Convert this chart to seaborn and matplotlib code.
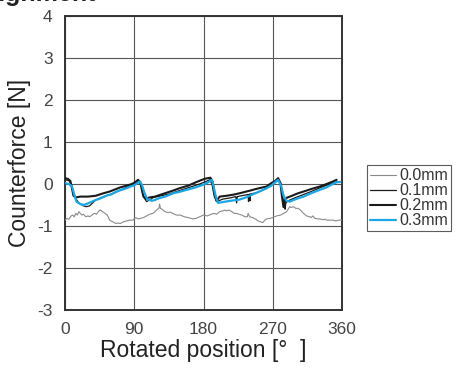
import numpy as np
import pandas as pd
import matplotlib
matplotlib.use("Agg")
import matplotlib.pyplot as plt
import seaborn as sns

# ---- data ----
deg_00 = [0, 2, 5, 8, 10, 12, 14, 16, 18, 20, 22, 24, 27, 30, 32, 35, 38, 41, 44, 46, 49, 52, 55, 58, 62, 66, 69, 72, 76, 80, 84, 88, 92, 95, 98,
          102, 106, 110, 114, 117, 120, 122, 123, 124, 126, 130, 134, 137, 140, 145, 150, 155, 160, 166, 170, 175, 180, 185, 190, 194, 197,
          201, 205, 208, 210, 213, 217, 220, 223, 226, 230, 234, 237, 238, 240, 244, 248, 251, 254, 257, 260, 262, 266, 270, 275, 280,
          284, 288, 290, 292, 294, 297, 300, 303, 306, 310, 314, 318, 320, 322, 325, 328, 331, 335, 338, 340, 344, 348, 352, 356, 360]
val_00 = [-0.86, -0.82, -0.84, -0.76, -0.74, -0.78, -0.70, -0.74, -0.66, -0.70, -0.74, -0.72, -0.78, -0.76, -0.78, -0.74, -0.70, -0.72, -0.64, -0.62, -0.66, -0.70, -0.74, -0.86, -0.90, -0.94, -0.93, -0.94, -0.90, -0.88, -0.86, -0.86, -0.80, -0.83, -0.82,
          -0.80, -0.76, -0.72, -0.70, -0.66, -0.60, -0.58, -0.48, -0.58, -0.60, -0.66, -0.68, -0.67, -0.70, -0.74, -0.74, -0.78, -0.80, -0.83, -0.82, -0.78, -0.74, -0.76, -0.72, -0.70, -0.72,
          -0.66, -0.64, -0.62, -0.64, -0.62, -0.66, -0.70, -0.70, -0.72, -0.74, -0.78, -0.78, -0.70, -0.78, -0.80, -0.84, -0.88, -0.90, -0.92, -0.86, -0.83, -0.82, -0.80, -0.76, -0.74,
          -0.70, -0.66, -0.60, -0.54, -0.56, -0.54, -0.58, -0.58, -0.62, -0.70, -0.76, -0.78, -0.80, -0.76, -0.82, -0.83, -0.83, -0.85, -0.84, -0.86, -0.86, -0.86, -0.88, -0.86, -0.86]

deg_01 = [0, 5, 8, 11, 14, 18, 24, 28, 32, 36, 40, 50, 60, 70, 80, 88, 93, 96, 99, 102, 106, 110, 115, 125, 135, 145, 155, 165, 175, 182, 188,
          191, 194, 197, 205, 215, 222, 223, 224, 232, 238, 238.5, 239, 240, 240.5, 241, 250, 260, 268, 274, 278, 281, 283, 284, 285, 286, 287,
          290, 300, 310, 320, 330, 340, 350, 355]
val_01 = [0.10, 0.08, 0.00, -0.20, -0.35, -0.45, -0.52, -0.54, -0.52, -0.45, -0.38, -0.30, -0.24, -0.16, -0.08, -0.02, 0.05, 0.08, -0.05, -0.30, -0.42, -0.38, -0.32, -0.28, -0.24, -0.18, -0.12, -0.06, 0.00, 0.05, 0.10,
          0.00, -0.30, -0.42, -0.36, -0.33, -0.30, -0.45, -0.30, -0.27, -0.25, -0.42, -0.25, -0.24, -0.40, -0.24, -0.20, -0.12, -0.04, 0.05, 0.10, 0.00, -0.35, -0.55, -0.35, -0.60, -0.45,
          -0.40, -0.32, -0.25, -0.18, -0.10, -0.03, 0.03, 0.06]

deg_02 = [0, 4, 7, 9, 11, 14, 20, 30, 40, 50, 58, 65, 72, 80, 87, 91, 95, 98, 100, 102, 105, 110, 117, 130, 140, 149, 160, 170, 178, 183, 189,
          192, 194, 197, 201, 210, 220, 227, 240, 250, 262, 268, 273, 277, 280, 282, 284, 286, 288, 295, 303, 310, 320, 331, 340, 347, 353]
val_02 = [0.14, 0.12, 0.07, -0.10, -0.28, -0.32, -0.30, -0.30, -0.28, -0.22, -0.18, -0.13, -0.08, -0.04, 0.00, 0.04, 0.10, 0.04, -0.15, -0.30, -0.35, -0.32, -0.30, -0.22, -0.16, -0.10, -0.04, 0.04, 0.10, 0.13, 0.15,
          0.05, -0.20, -0.40, -0.30, -0.28, -0.25, -0.22, -0.16, -0.11, -0.06, 0.02, 0.07, 0.14, 0.02, -0.30, -0.55, -0.40, -0.33, -0.28, -0.22, -0.18, -0.12, -0.06, 0.00, 0.05, 0.10]

deg_03 = [0, 5, 9, 12, 15, 20, 25, 30, 35, 40, 45, 50, 55, 60, 65, 70, 75, 80, 85, 90, 94, 97, 100, 103, 107, 113, 117, 122, 130, 141, 150, 160, 170, 182, 186, 191,
          193, 196, 199, 205, 215, 227, 235, 245, 255, 262, 268, 273, 277, 281, 284, 288, 292, 300, 310, 320, 331, 340, 348, 353, 358]
val_03 = [0.02, 0.00, -0.05, -0.25, -0.42, -0.48, -0.50, -0.46, -0.42, -0.38, -0.35, -0.31, -0.27, -0.25, -0.20, -0.16, -0.13, -0.10, -0.06, -0.03, 0.02, 0.06, -0.02, -0.20, -0.36, -0.40, -0.38, -0.34, -0.30, -0.22, -0.18, -0.13, -0.08, 0.00, 0.04, 0.10,
          -0.05, -0.30, -0.45, -0.43, -0.40, -0.37, -0.32, -0.24, -0.16, -0.10, -0.04, 0.04, 0.10, -0.05, -0.28, -0.40, -0.42, -0.36, -0.30, -0.22, -0.14, -0.08, 0.00, 0.04, 0.05]

series_labels = ["0.0mm", "0.1mm", "0.2mm", "0.3mm"]
series_colors = ["#8a8a8a", "#1a1a1a", "#1a1a1a", "#1aa7e6"]
series_widths = [0.8, 0.9, 1.5, 1.6]

x_ticks = [0, 90, 180, 270, 360]
y_ticks = [-3, -2, -1, 0, 1, 2, 3, 4]

# ---- figure ----
sns.set_theme(style="white")
plt.rcParams["font.family"] = ["Liberation Sans", "DejaVu Sans"]
plt.rcParams["axes.unicode_minus"] = False

fig = plt.figure(figsize=(4.67, 3.68), dpi=100)
ax = fig.add_axes([65 / 467, 1 - 310 / 368, (342 - 65) / 467, (310 - 16) / 368])

datasets = [(deg_00, val_00), (deg_01, val_01), (deg_02, val_02), (deg_03, val_03)]
for (xs, ys), lab, col, lw in zip(datasets, series_labels, series_colors, series_widths):
    df = pd.DataFrame({"deg": xs, "force": ys})
    sns.lineplot(data=df, x="deg", y="force", ax=ax, color=col, linewidth=lw,
                 label=lab, sort=False, estimator=None, zorder=3)

ax.set_xlim(0, 360)
ax.set_ylim(-3, 4)
ax.set_xticks(x_ticks)
ax.set_yticks(y_ticks)
ax.grid(True, color="#555555", linewidth=0.8, zorder=0)
ax.set_axisbelow(True)
for s in ax.spines.values():
    s.set_color("#333333")
    s.set_linewidth(1.4)
ax.tick_params(axis="both", length=0, labelsize=12.5, labelcolor="#444444")
ax.tick_params(axis="x", pad=9)
ax.tick_params(axis="y", pad=9)
ax.set_xlabel("Rotated position [°  ]", fontsize=16.5, color="#222222", labelpad=1)
ax.set_ylabel("Counterforce [N]", fontsize=16.5, color="#222222", labelpad=4)

leg = ax.legend(loc="upper left", bbox_to_anchor=(367 / 467, 1 - 165 / 368),
                bbox_transform=fig.transFigure, frameon=True, fancybox=False,
                fontsize=11.5, handlelength=1.6, handletextpad=0.2, labelspacing=0.0,
                borderpad=0.2, borderaxespad=0)
leg.get_frame().set_edgecolor("#333333")
leg.get_frame().set_linewidth(0.8)
for t in leg.get_texts():
    t.set_color("#333333")

fig.text(96 / 467, 1 - 1 / 368, "Misalignment", ha="right", va="baseline",
         fontsize=18, fontweight="bold", color="#222222")

fig.savefig("out.png", dpi=100)
